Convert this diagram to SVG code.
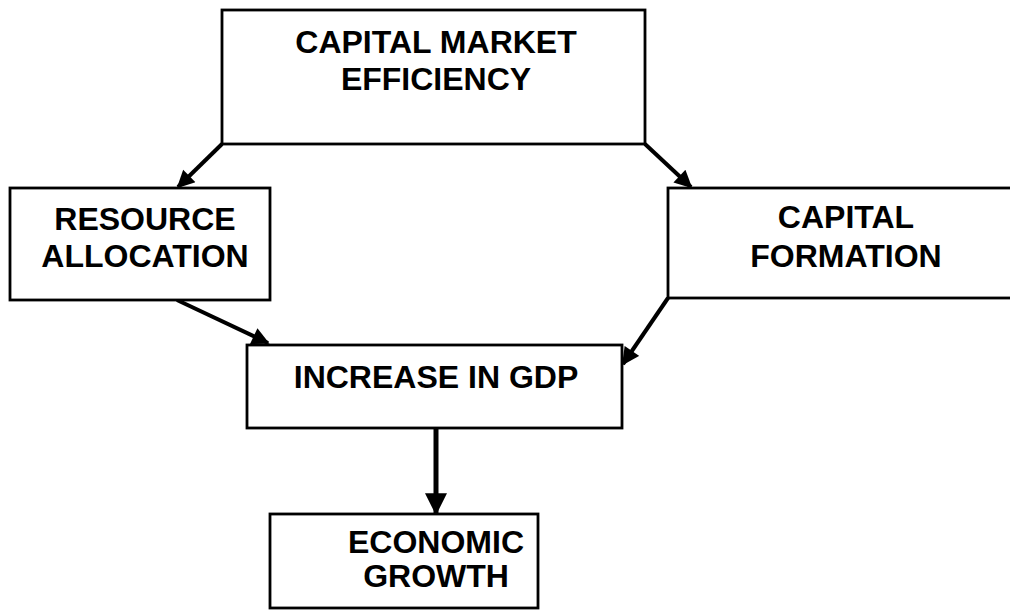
<svg xmlns="http://www.w3.org/2000/svg" width="1010" height="612" viewBox="0 0 1010 612">
<defs>
<marker id="ah" viewBox="0 0 10 10" refX="9" refY="5" markerWidth="4.8" markerHeight="4.4" markerUnits="strokeWidth" orient="auto">
<path d="M0,0 L10,5 L0,10 Z" fill="#000"/>
</marker>
<style>
.box{fill:#fff;stroke:#000;stroke-width:2.8}
.t{font-family:"Liberation Sans",Arial,sans-serif;font-weight:bold;font-size:32px;fill:#000;text-anchor:middle}
.c{stroke:#000;stroke-width:4;fill:none;marker-end:url(#ah)}
.v{stroke-width:5}
</style>
</defs>
<rect width="1010" height="612" fill="#fff"/>
<g id="connectors">
<line class="c" x1="222" y1="144" x2="178" y2="187"/>
<line class="c" x1="645" y1="144" x2="691" y2="187"/>
<line class="c" x1="177" y1="300" x2="268" y2="343"/>
<line class="c" x1="668" y1="298" x2="623" y2="364"/>
<line class="c v" x1="436" y1="428" x2="436" y2="513"/>
</g>
<g id="capital-market-efficiency">
<rect class="box" x="222" y="10" width="423" height="134"/>
<text class="t" x="436" y="53">CAPITAL MARKET</text>
<text class="t" x="436" y="90">EFFICIENCY</text>
</g>
<g id="resource-allocation">
<rect class="box" x="10" y="188" width="260" height="112"/>
<text class="t" x="145" y="230">RESOURCE</text>
<text class="t" x="145" y="267">ALLOCATION</text>
</g>
<g id="capital-formation">
<rect class="box" x="668" y="188" width="350" height="110"/>
<text class="t" x="846" y="228">CAPITAL</text>
<text class="t" x="846" y="267">FORMATION</text>
</g>
<g id="increase-in-gdp">
<rect class="box" x="247" y="345" width="375" height="83"/>
<text class="t" x="436" y="388">INCREASE IN GDP</text>
</g>
<g id="economic-growth">
<rect class="box" x="270" y="514" width="268" height="94"/>
<text class="t" x="436" y="553">ECONOMIC</text>
<text class="t" x="436" y="587">GROWTH</text>
</g>
</svg>
